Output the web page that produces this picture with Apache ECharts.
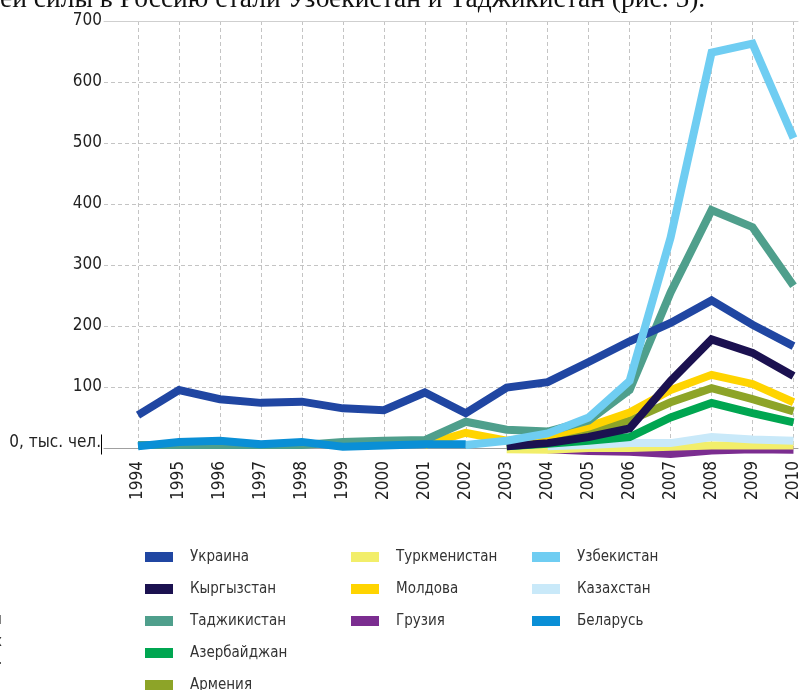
<!DOCTYPE html>
<html>
<head>
<meta charset="utf-8">
<script src="https://cdn.jsdelivr.net/npm/echarts@6/dist/echarts.min.js"></script>
<style>
html,body{margin:0;padding:0;background:#fff;}
#c{width:802px;height:690px;}
</style>
</head>
<body>
<div id="c"></div>
<script>
const years = ['1994','1995','1996','1997','1998','1999','2000','2001','2002','2003','2004','2005','2006','2007','2008','2009','2010'];
const yTicks = [0,100,200,300,400,500,600,700];
const ukraine      = [54, 95, 80, 74, 76, 65, 62, 91, 57, 99, 108, 141, 175, 205, 242, 202, 167];
const uzbekistan   = [null,null,null,null,null,null,null,null, 5, 12, 24, 50, 110, 345, 648, 663, 508];
const tajikistan   = [5, 5, 5, 5, 5, 10, 12, 13, 43, 30, 27, 45, 95, 255, 390, 362, 266];
const kyrgyzstan   = [null,null,null,null,null,null,null,null, null, 3, 8, 18, 32, 110, 178, 156, 118];
const moldova      = [null,null,null,null,null,null,null, 5, 25, 12, 20, 35, 58, 95, 120, 105, 75];
const armenia      = [null,null,null,null,null,null,null,null, null, 5, 15, 27, 45, 75, 98, 80, 60];
const azerbaijan   = [null,null,null,null,null,null,null,null, null, 3, 7, 12, 18, 50, 74, 57, 42];
const kazakhstan   = [null,null,null,null,null,null,null,null, null, null, 3, 5, 8, 8, 18, 14, 12];
const turkmenistan = [null,null,null,null,null,null,null,null, null, -2, -3, 0, 0, 2, 4, 4, 4];
const georgia      = [null,null,null,null,null,null,null,null, null, null, -2, -5, -6, -10, -4, -2, -3];
const belarus      = [3, 10, 12, 6, 10, 2, 4, 6, 6, null,null,null,null,null,null,null,null];

const names = {
  ukraine:'Украина', kyrgyzstan:'Кыргызстан', tajikistan:'Таджикистан', azerbaijan:'Азербайджан', armenia:'Армения',
  turkmenistan:'Туркменистан', moldova:'Молдова', georgia:'Грузия',
  uzbekistan:'Узбекистан', kazakhstan:'Казахстан', belarus:'Беларусь'
};
const colors = {
  ukraine:'#2046a2', kyrgyzstan:'#1b1150', tajikistan:'#4f9f8c', azerbaijan:'#00a651', armenia:'#8da428',
  turkmenistan:'#f2ee6a', moldova:'#ffd400', georgia:'#7b2d90',
  uzbekistan:'#6fcdf2', kazakhstan:'#c9e9f9', belarus:'#0a8fd6'
};
const dataMap = {ukraine, uzbekistan, tajikistan, kyrgyzstan, moldova, armenia, azerbaijan, kazakhstan, turkmenistan, georgia, belarus};
// drawing order bottom -> top
const order = ['georgia','turkmenistan','kazakhstan','azerbaijan','armenia','moldova','tajikistan','kyrgyzstan','ukraine','uzbekistan','belarus'];

const FONT = '"Liberation Sans Narrow","DejaVu Sans Condensed",sans-serif';

const series = order.map(k => ({
  name: names[k], type: 'line', xAxisIndex: 2, yAxisIndex: 1,
  data: dataMap[k], showSymbol: false, symbol: 'none', clip: false,
  connectNulls: false, animation: false,
  lineStyle: {width: 8, color: colors[k], cap: 'butt', join: 'miter'},
  itemStyle: {color: colors[k]}
}));

const legendCommon = {
  orient: 'vertical', icon: 'rect', itemWidth: 28, itemHeight: 10, itemGap: 16,
  selectedMode: false,
  textStyle: {fontFamily: FONT, fontSize: 15, color: '#333', lineHeight: 16, padding: [0,0,0,12]}
};

const chart = echarts.init(document.getElementById('c'), null, {renderer: 'canvas'});
chart.setOption({
  backgroundColor: '#fff',
  animation: false,
  grid: [
    {left: 104, right: 4, top: 21, bottom: 242},
    {left: 138, right: 4, top: 21, bottom: 242}
  ],
  xAxis: [
    {gridIndex: 0, type: 'value', min: 0, max: 1, position: 'bottom',
     axisLine: {show: true, onZero: false, lineStyle: {color: '#a0a0a0', width: 1}},
     axisTick: {show: false}, axisLabel: {show: false}, splitLine: {show: false}},
    {gridIndex: 0, type: 'value', min: 0, max: 1, position: 'top',
     axisLine: {show: true, onZero: false, lineStyle: {color: '#cfcfcf', width: 1}},
     axisTick: {show: false}, axisLabel: {show: false}, splitLine: {show: false}},
    {gridIndex: 1, type: 'category', data: years, boundaryGap: false,
     axisLine: {show: false}, axisTick: {show: false},
     axisLabel: {rotate: 90, interval: 0, margin: 13, fontFamily: FONT, fontSize: 17, color: '#222'},
     splitLine: {show: true, interval: 0, lineStyle: {color: '#c4c4c4', type: [4, 3], width: 1}}}
  ],
  yAxis: [
    {gridIndex: 0, type: 'value', min: yTicks[0], max: yTicks[yTicks.length-1], interval: 100,
     axisLine: {show: false}, axisTick: {show: false},
     axisLabel: {margin: 2, fontFamily: FONT, fontSize: 17, color: '#222',
       formatter: v => v === 0 ? '{z|0, тыс. чел.}{bar|}' : String(v),
       rich: {
         z: {fontFamily: FONT, fontSize: 17, color: '#222', padding: [0,0,10,0]},
         bar: {width: 1, height: 20, backgroundColor: '#000', verticalAlign: 'top'}
       }},
     splitLine: {show: true, lineStyle: {color: '#c4c4c4', type: [4, 3], width: 1}}},
    {gridIndex: 1, type: 'value', min: yTicks[0], max: yTicks[yTicks.length-1], interval: 100, show: false}
  ],
  legend: [
    Object.assign({left: 140, top: 544, data: [names.ukraine, names.kyrgyzstan, names.tajikistan, names.azerbaijan]}, legendCommon),
    Object.assign({left: 140, top: 672, data: [names.armenia]}, legendCommon),
    Object.assign({left: 346, top: 544, data: [names.turkmenistan, names.moldova, names.georgia]}, legendCommon),
    Object.assign({left: 527, top: 544, data: [names.uzbekistan, names.kazakhstan, names.belarus]}, legendCommon)
  ],
  graphic: [
    {type: 'text', left: 0, top: -14, silent: true,
     style: {text: 'ей силы в Россию стали Узбекистан и Таджикистан (рис. 5).', font: '27.5px "Liberation Serif", serif', fill: '#111'}},
    {type: 'text', left: -7, top: 613, silent: true, style: {text: 'н', font: '15px ' + FONT, fill: '#333'}},
    {type: 'text', left: -6, top: 635, silent: true, style: {text: 'х', font: '15px ' + FONT, fill: '#333'}},
    {type: 'text', left: -2, top: 653, silent: true, style: {text: '.', font: '15px ' + FONT, fill: '#333'}}
  ],
  series: series
});
</script>
</body>
</html>
